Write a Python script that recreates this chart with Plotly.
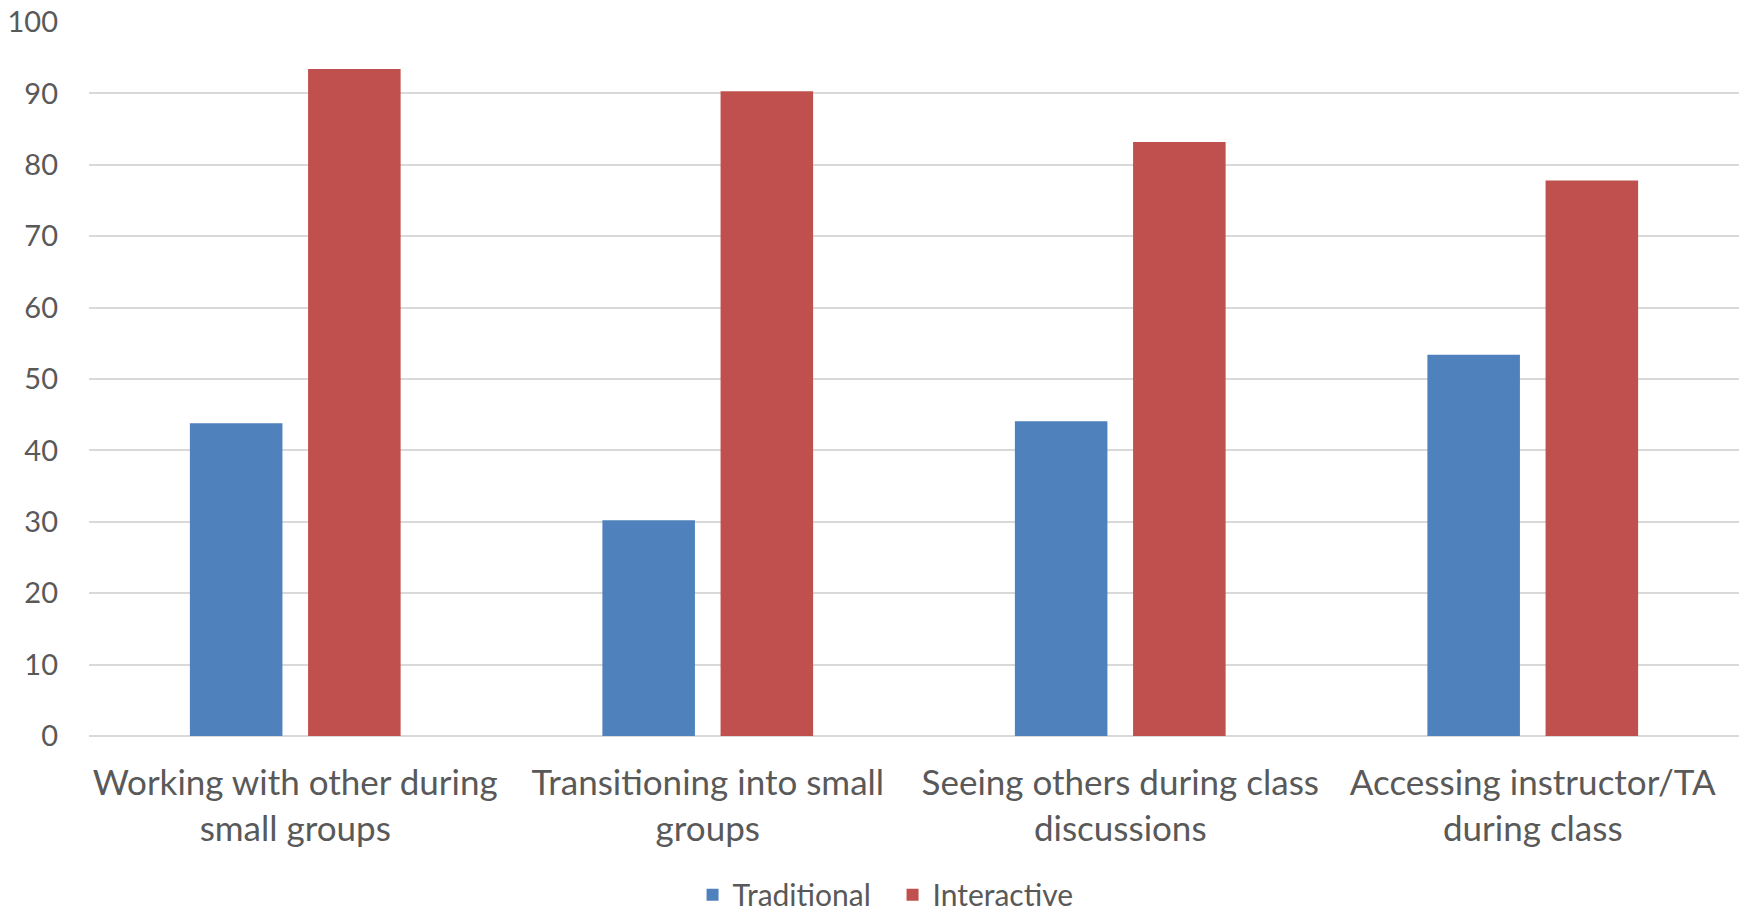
import plotly.graph_objects as go

categories = [
    "Working with other during<br>small groups",
    "Transitioning into small<br>groups",
    "Seeing others during class<br>discussions",
    "Accessing instructor/TA<br>during class",
]
traditional = [43.8, 30.2, 44.1, 53.4]
interactive = [93.4, 90.3, 83.2, 77.8]
y_ticks = list(range(0, 101, 10))

FONT = "Lato"
TEXT = "#595959"

fig = go.Figure()
fig.add_trace(go.Bar(name="Traditional", x=categories, y=traditional,
                     marker=dict(color="#4F81BD", line=dict(width=0))))
fig.add_trace(go.Bar(name="Interactive", x=categories, y=interactive,
                     marker=dict(color="#C0504D", line=dict(width=0))))

fig.update_layout(
    width=1748, height=913,
    margin=dict(l=89, r=9, t=22, b=177, autoexpand=False),
    paper_bgcolor="white", plot_bgcolor="white",
    barmode="group", bargap=0.427, bargroupgap=0.217,
    font=dict(family=FONT, color=TEXT, size=30),
    showlegend=True,
    legend=dict(orientation="h", x=0.487, xanchor="center",
                yref="container", y=0.02, yanchor="middle",
                entrywidth=155, entrywidthmode="pixels",
                font=dict(size=30, color=TEXT), traceorder="normal"),
    xaxis=dict(showgrid=False, showline=False, ticks="", zeroline=False,
               automargin=False, tickfont=dict(size=35, color=TEXT),
               ticklabelstandoff=23),
    yaxis=dict(range=[0, 100], tickvals=y_ticks, showgrid=True, gridcolor="#D9D9D9",
               gridwidth=2, zeroline=True, zerolinecolor="#D9D9D9", zerolinewidth=2,
               showline=False, ticks="", automargin=False,
               tickfont=dict(size=29, color=TEXT), ticklabelstandoff=30),
)

fig.write_html("out.html")
